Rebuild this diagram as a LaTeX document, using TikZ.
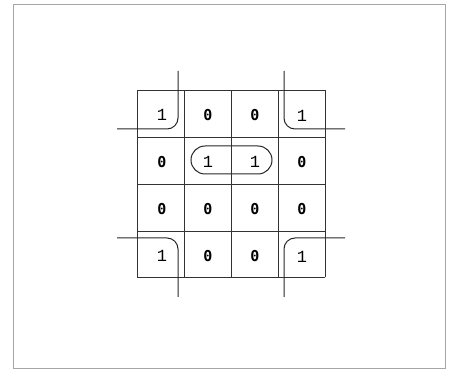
\documentclass[tikz,border=0pt]{standalone}
\usepackage{fontspec}
\newfontfamily\zerofont{DejaVu Sans Mono}[BoldFont={DejaVu Sans Mono Bold}]
\newfontfamily\onefont{Liberation Mono}
\begin{document}
\begin{tikzpicture}[x=1pt,y=-1pt,
  gridline/.style={line width=0.9pt, draw=black!80},
  loopline/.style={line width=1pt, draw=black!85, rounded corners=11pt},
  framebox/.style={line width=0.8pt, draw=black!35},
  zero/.style={font=\zerofont\bfseries\fontsize{15}{15}\selectfont},
  one/.style={font=\onefont\fontsize{17}{17}\selectfont}]
\useasboundingbox (0,0) rectangle (451,369);
\draw[framebox] (13,4) rectangle (445,368);
% grid
\foreach \x in {137,184,231,278,325} \draw[gridline] (\x,90) -- (\x,277);
\foreach \y in {90,137,184,231,277} \draw[gridline] (137,\y) -- (325,\y);
% cells
\node[one]  (c11) at (162,115) {1};
\node[zero] (c12) at (208,115) {0};
\node[zero] (c13) at (255,115) {0};
\node[one]  (c14) at (302,116) {1};
\node[zero] (c21) at (162,162) {0};
\node[one]  (c22) at (208,162) {1};
\node[one]  (c23) at (255,162) {1};
\node[zero] (c24) at (302,162) {0};
\node[zero] (c31) at (162,209) {0};
\node[zero] (c32) at (208,209) {0};
\node[zero] (c33) at (255,209) {0};
\node[zero] (c34) at (302,209) {0};
\node[one]  (c41) at (162,256) {1};
\node[zero] (c42) at (208,256) {0};
\node[zero] (c43) at (255,256) {0};
\node[one]  (c44) at (302,257) {1};
% middle group
\draw[loopline, rounded corners=14pt] (191,146) rectangle (272,174);
% corner groups
\draw[loopline] (178,71) -- (178,129) -- (117,129);
\draw[loopline] (284,71) -- (284,129) -- (345,129);
\draw[loopline] (117,238) -- (178,238) -- (178,297);
\draw[loopline] (345,238) -- (284,238) -- (284,297);
\end{tikzpicture}
\end{document}
